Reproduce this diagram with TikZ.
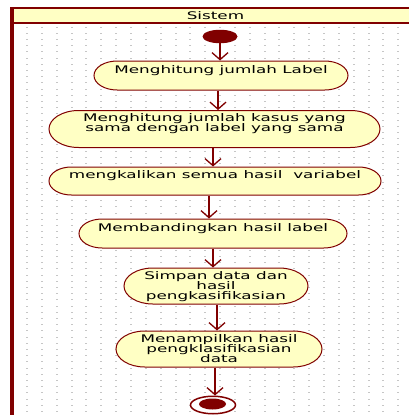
\documentclass[tikz,border=0pt]{standalone}
\usepackage{fontspec}
\newfontfamily\umlfont{DejaVu Sans}
\usetikzlibrary{shapes.misc,shapes.geometric,arrows.meta}
\definecolor{umlred}{RGB}{128,0,0}
\definecolor{umlfill}{RGB}{255,255,196}
\definecolor{griddot}{RGB}{198,198,198}
% centred text that may run into the rounded ends of an action
\newcommand{\acttext}[1]{\makebox[0pt][c]{#1}}
% centred lines, 10pt apart; the box baseline is that of the last line
\newcommand{\actlines}[1]{\makebox[0pt][c]{\vbox{\baselineskip=10pt\lineskiplimit=-20pt
  \halign{\hfil##\hfil\cr #1\crcr}}}}
\newcommand{\hs}{1.6}

\begin{document}
\begin{tikzpicture}[x=1pt,y=1pt,
  umltext/.style={font=\umlfont\fontsize{10.5}{10}\selectfont, text=black, inner sep=0pt},
  action/.style={rounded rectangle, draw=umlred, fill=umlfill, line width=1pt, umltext},
  oneline/.style={text height=8pt, text depth=13pt},
  twoline/.style={text height=18pt, text depth=12.4pt},
  threeline/.style={text height=28pt, text depth=0.4pt},
  flow/.style={draw=umlred, line width=1.5pt,
    -{Straight Barb[length=7pt,width=16pt,line width=1.3pt]}},
]
\useasboundingbox (0,0) rectangle (409,-415);
\clip (0,0) rectangle (409,-415);
\fill[white] (0,0) rectangle (409,-415);

% dotted grid of the swimlane
\foreach \i in {0,...,25}
  \foreach \j in {0,...,62}
    \fill[griddot] ({26+14.85*\i},{-26.5-6.2*\j}) rectangle ++(2,-1);

% swimlane header and border
\fill[umlfill] (10,-8) rectangle (412,-22.8);
\draw[umlred, line width=2pt] (10,-8) -- (412,-8);
\draw[umlred, line width=2pt] (10,-22.8) -- (412,-22.8);
\draw[umlred, line width=3.5pt] (11.75,-7) -- (11.75,-416);

% initial and final states
\node[ellipse, fill=umlred, inner sep=0pt, minimum width=35pt, minimum height=13.5pt]
  (start) at (220,-36.5) {};
\node[ellipse, draw=umlred, fill=white, line width=1.5pt, inner sep=0pt,
  minimum width=45pt, minimum height=17.5pt] (endring) at (213,-405) {};
\node[ellipse, fill=umlred, inner sep=0pt, minimum width=27pt, minimum height=11pt]
  (enddot) at (212.5,-404) {};

% lane title and actions (horizontally widened)
\begin{scope}[xscale=\hs, transform shape]
  \node[umltext] (lanetitle) at ({215.5/\hs},-15.5) {Sistem};
  \node[action, oneline, minimum width={254/\hs}, minimum height=29pt]
    (n1) at ({221/\hs},-75.5) {\acttext{Menghitung jumlah Label}};
  \node[action, twoline, minimum width={331/\hs}, minimum height=37pt]
    (n2) at ({214.5/\hs},-129) {\actlines{Menghitung jumlah kasus yang\cr sama dengan label yang sama}};
  \node[action, oneline, minimum width={332/\hs}, minimum height=28pt]
    (n3) at ({215/\hs},-181) {\acttext{mengkalikan semua hasil\ \ variabel}};
  \node[action, oneline, minimum width={268/\hs}, minimum height=29pt]
    (n4) at ({213/\hs},-233.5) {\acttext{Membandingkan hasil label}};
  \node[action, threeline, minimum width={184/\hs}, minimum height=36pt]
    (n5) at ({216/\hs},-286) {\actlines{Simpan data dan\cr hasil\cr pengkasifikasian}};
  \node[action, threeline, minimum width={206/\hs}, minimum height=36pt]
    (n6) at ({219/\hs},-349) {\actlines{Menampilkan hasil\cr pengklasifikasian\cr data}};
\end{scope}

% control flow
\draw[flow] (start.south) -- (start.south |- n1.north);
\draw[flow] ([xshift=-3pt]n1.south) -- ([xshift=-3pt]n1.south |- n2.north);
\draw[flow] ([xshift=-1.5pt]n2.south) -- ([xshift=-1.5pt]n2.south |- n3.north);
\draw[flow] ([xshift=-6pt]n3.south) -- ([xshift=-6pt]n3.south |- n4.north);
\draw[flow] (n4.south) -- (n4.south |- n5.north);
\draw[flow] ([xshift=1pt]n5.south) -- ([xshift=1pt]n5.south |- n6.north);
\draw[flow] ([xshift=-4pt]n6.south) -- ([xshift=-4pt]n6.south |- endring.north);
\end{tikzpicture}
\end{document}
